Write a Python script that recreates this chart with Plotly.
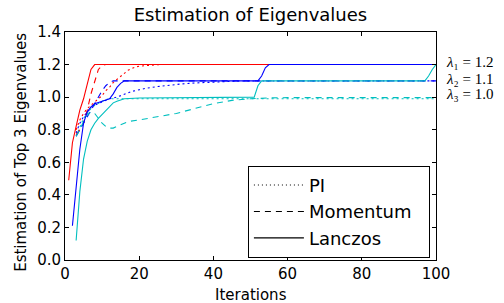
import plotly.graph_objects as go

RED = "#ff0000"
BLUE = "#0000ff"
CYAN = "#00bfbf"

# ---- PI (dotted) ----
pi1_x = [3, 4, 5, 6, 7, 8, 9, 10, 11, 12, 13, 14, 15, 16, 17, 18, 19, 20, 22, 24, 26, 100]
pi1_y = [0.80, 0.86, 0.90, 0.93, 0.95, 0.97, 0.99, 1.01, 1.04, 1.06, 1.09, 1.11, 1.13, 1.15, 1.165, 1.175, 1.185, 1.19, 1.195, 1.198, 1.20, 1.20]
pi2_x = [3, 4, 5, 6, 7, 8, 9, 10, 11, 12, 14, 16, 18, 20, 22, 25, 28, 31, 35, 39, 43, 47, 100]
pi2_y = [0.78, 0.84, 0.88, 0.91, 0.93, 0.95, 0.96, 0.97, 0.98, 0.99, 1.00, 1.02, 1.035, 1.045, 1.055, 1.065, 1.073, 1.08, 1.087, 1.092, 1.096, 1.099, 1.10]
pi3_x = [3, 4, 5, 6, 7, 8, 9, 10, 11, 12, 15, 100]
pi3_y = [0.76, 0.82, 0.87, 0.90, 0.93, 0.95, 0.965, 0.975, 0.985, 0.99, 0.99, 0.99]

# ---- Momentum (dashed) ----
mo1_x = [3, 4, 5, 6, 7, 8, 9, 10, 11, 100]
mo1_y = [0.77, 0.80, 0.84, 0.92, 1.02, 1.10, 1.17, 1.195, 1.20, 1.20]
mo2_x = [3, 4, 5, 6, 7, 8, 9, 10, 11, 12, 13, 100]
mo2_y = [0.76, 0.80, 0.84, 0.88, 0.92, 0.96, 1.00, 1.04, 1.07, 1.09, 1.10, 1.10]
mo3_x = [3, 4, 5, 6, 7, 8, 9, 10, 11, 12, 13, 14, 15, 17, 20, 25, 30, 35, 40, 45, 50, 55, 60, 100]
mo3_y = [0.76, 0.80, 0.85, 0.89, 0.91, 0.90, 0.87, 0.84, 0.82, 0.81, 0.81, 0.82, 0.83, 0.85, 0.86, 0.88, 0.90, 0.93, 0.96, 0.98, 0.99, 0.995, 0.997, 0.997]

# ---- Lanczos (solid) ----
la1_x = [1, 2, 3, 4, 5, 6, 7, 8, 100]
la1_y = [0.49, 0.72, 0.82, 0.92, 0.99, 1.08, 1.17, 1.20, 1.20]
la2_x = [2, 3, 4, 5, 6, 7, 8, 10, 12, 13, 14, 15, 16, 52, 53, 54, 55, 100]
la2_y = [0.21, 0.45, 0.68, 0.84, 0.91, 0.94, 0.96, 0.975, 0.99, 1.02, 1.06, 1.085, 1.10, 1.10, 1.13, 1.18, 1.20, 1.20]
la3_x = [3, 4, 5, 6, 7, 8, 9, 10, 11, 12, 13, 14, 16, 20, 51, 52, 53, 97, 98, 99, 100]
la3_y = [0.12, 0.42, 0.62, 0.73, 0.80, 0.84, 0.87, 0.895, 0.92, 0.945, 0.965, 0.975, 0.99, 0.995, 1.00, 1.07, 1.10, 1.10, 1.13, 1.17, 1.20]

legend_names = ["PI", "Momentum", "Lanczos"]
x_ticks = [0, 20, 40, 60, 80, 100]
y_ticks = [0.0, 0.2, 0.4, 0.6, 0.8, 1.0, 1.2, 1.4]
lam_labels = ["<i>λ</i>₁ = 1.2", "<i>λ</i>₂ = 1.1", "<i>λ</i>₃ = 1.0"]
lam_pos = [1.214, 1.113, 1.02]

DOT = "2px,3px"
DASH = "6px,5px"
W = 1.1
FONT = "DejaVu Sans"

fig = go.Figure()

series = [
    (pi1_x, pi1_y, RED, DOT), (pi2_x, pi2_y, BLUE, DOT), (pi3_x, pi3_y, CYAN, DOT),
    (mo1_x, mo1_y, RED, DASH), (mo2_x, mo2_y, BLUE, DASH), (mo3_x, mo3_y, CYAN, DASH),
    (la1_x, la1_y, RED, "solid"), (la2_x, la2_y, BLUE, "solid"), (la3_x, la3_y, CYAN, "solid"),
]
for xs, ys, c, d in series:
    fig.add_trace(go.Scatter(x=xs, y=ys, mode="lines", line=dict(color=c, dash=d, width=W),
                             showlegend=False, hoverinfo="skip"))

for i, (name, d) in enumerate(zip(legend_names, ["1px,3px", DASH, "solid"])):
    fig.add_trace(go.Scatter(x=[None], y=[None], mode="lines", name=name + "\u00a0\u00a0",
                             legendgroup=f"g{i}",
                             line=dict(color="black", dash=d, width=W)))

for txt, yy in zip(lam_labels, lam_pos):
    fig.add_annotation(x=1, xref="paper", xshift=8, xanchor="left", y=yy, yref="y",
                       text=txt, showarrow=False,
                       font=dict(family="Liberation Serif", size=15, color="black"))

# axis titles as annotations
fig.add_annotation(x=0.5, xref="paper", y=0, yref="paper", yshift=-35, text="Iterations",
                   showarrow=False, xanchor="center", yanchor="middle",
                   font=dict(family=FONT, size=15, color="black"))
fig.add_annotation(x=0, xref="paper", xshift=-44, y=0.47, yref="paper",
                   text="Estimation of Top 3 Eigenvalues", textangle=-90,
                   showarrow=False, xanchor="center", yanchor="middle",
                   font=dict(family=FONT, size=15, color="black"))

axis_common = dict(showline=True, linecolor="black", linewidth=1, mirror="allticks",
                   ticks="inside", ticklen=4, tickcolor="black", showgrid=False, zeroline=False,
                   automargin=False,
                   tickfont=dict(family=FONT, size=15, color="black"))

fig.update_layout(
    width=504, height=303,
    margin=dict(l=65, r=68, t=32, b=43, autoexpand=False),
    plot_bgcolor="white", paper_bgcolor="white",
    title=dict(text="Estimation of Eigenvalues", x=0.497, xanchor="center", y=0.952, yanchor="middle",
               font=dict(family=FONT, size=18, color="black")),
    xaxis=dict(range=[0, 100], tickvals=x_ticks, ticktext=[str(v) for v in x_ticks], **axis_common),
    yaxis=dict(range=[0, 1.4], tickvals=y_ticks, ticktext=[f"{v:.1f}" for v in y_ticks], **axis_common),
    legend=dict(x=0.493, y=0.413, xanchor="left", yanchor="top", bordercolor="black", borderwidth=1,
                bgcolor="white", font=dict(family=FONT, size=18, color="black"),
                itemwidth=50, tracegroupgap=0, traceorder="grouped"),
    showlegend=True,
)

fig.write_html("out.html", config={"displayModeBar": False},
               post_script="document.body.style.margin='0';document.body.style.padding='0';document.body.style.overflow='hidden';")
